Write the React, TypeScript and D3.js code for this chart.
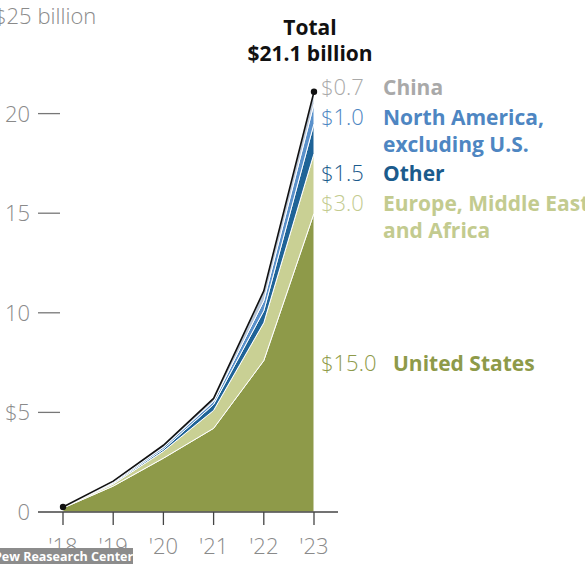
import React from 'react';
import * as d3 from 'd3';

const years = [2018, 2019, 2020, 2021, 2022, 2023];
const yearLabels = ["'18", "'19", "'20", "'21", "'22", "'23"];

// billions of dollars
const unitedStates = [0.2, 1.3, 2.7, 4.2, 7.6, 15.0];
const europeMEA = [0.02, 0.1, 0.35, 0.9, 1.9, 3.0];
const other = [0.01, 0.05, 0.1, 0.3, 0.6, 1.5];
const northAmerica = [0.01, 0.05, 0.1, 0.15, 0.5, 1.0];
const china = [0.01, 0.05, 0.1, 0.15, 0.5, 0.6];

const seriesColors = ['#8e9a49', '#c9d094', '#1e6397', '#5a91cb', '#b8c5d6'];
const yTicks = [0, 5, 10, 15, 20];
const yTickLabels = ['0', '$5', '10', '15', '20'];

const endLabels = [
  { value: '$0.7', lines: ['China'], color: '#a9a9a9', y: 87 },
  { value: '$1.0', lines: ['North America,', 'excluding U.S.'], color: '#4e86c2', y: 117 },
  { value: '$1.5', lines: ['Other'], color: '#1b5b8c', y: 173 },
  { value: '$3.0', lines: ['Europe, Middle East', 'and Africa'], color: '#c3cb8f', y: 203 },
  { value: '$15.0', lines: ['United States'], color: '#8e9a49', y: 363 },
];

const App: React.FC = () => {
  const width = 585;
  const height = 564;

  const x = d3.scaleLinear().domain([2018, 2023]).range([63, 314]);
  const y = d3.scaleLinear().domain([0, 25]).range([512, 14]);

  const rows = years.map((yr, i) => ({
    year: yr,
    s0: unitedStates[i],
    s1: europeMEA[i],
    s2: other[i],
    s3: northAmerica[i],
    s4: china[i],
  }));
  const stack = d3.stack<any>().keys(['s0', 's1', 's2', 's3', 's4']);
  const layers = stack(rows);

  const area = d3.area<any>()
    .x(d => x(d.data.year))
    .y0(d => y(d[0]))
    .y1(d => y(d[1]));

  const totals = rows.map(r => r.s0 + r.s1 + r.s2 + r.s3 + r.s4);
  const totalLine = d3.line<number>()
    .x((_, i) => x(years[i]))
    .y(d => y(d));

  const font = "'Open Sans', Roboto, sans-serif";

  return (
    <svg width={width} height={height} style={{ position: 'absolute', left: 0, top: 0, background: '#fff' }}>
      {layers.map((layer, i) => (
        <path key={i} d={area(layer) || ''} fill={seriesColors[i]} stroke="#fff" strokeWidth={1} strokeLinejoin="round" />
      ))}
      <path d={totalLine(totals) || ''} fill="none" stroke="#111" strokeWidth={1.6} />
      <circle cx={x(2018)} cy={y(totals[0])} r={3.2} fill="#111" />
      <circle cx={x(2023)} cy={y(totals[5])} r={3.2} fill="#111" />

      {/* x axis */}
      <line x1={38} x2={338} y1={y(0)} y2={y(0)} stroke="#444" strokeWidth={1.3} />
      {years.map((yr, i) => (
        <g key={yr}>
          <line x1={x(yr)} x2={x(yr)} y1={y(0)} y2={y(0) + 13} stroke="#444" strokeWidth={1.3} />
          <text x={x(yr)} y={554} textAnchor="middle" fontFamily={font} fontWeight={300} fontSize={22} fill="#8a8a8a">
            {yearLabels[i]}
          </text>
        </g>
      ))}

      {/* y ticks */}
      {yTicks.map((t, i) => (
        <g key={t}>
          {t > 0 && <line x1={38} x2={60} y1={y(t)} y2={y(t)} stroke="#777" strokeWidth={1.3} />}
          <text x={30} y={y(t) + 8} textAnchor="end" fontFamily={font} fontWeight={300} fontSize={22} fill="#8a8a8a">
            {yTickLabels[i]}
          </text>
        </g>
      ))}
      <text x={-6} y={24} fontFamily={font} fontWeight={300} fontSize={22} fill="#8a8a8a">$25 billion</text>

      {/* total label */}
      <text x={310} y={35} textAnchor="middle" fontFamily={font} fontWeight={700} fontSize={21} fill="#111">Total</text>
      <text x={310} y={61} textAnchor="middle" fontFamily={font} fontWeight={700} fontSize={21} fill="#111">$21.1 billion</text>

      {/* end labels */}
      {endLabels.map(l => (
        <g key={l.value}>
          <text x={321} y={l.y + 8} fontFamily={font} fontWeight={300} fontSize={22} fill={l.color}>
            {l.value}
          </text>
          {l.lines.map((line, j) => (
            <text key={j} x={l.value.length > 4 ? 393 : 383} y={l.y + 8 + j * 27} fontFamily={font} fontWeight={700} fontSize={21} fill={l.color}>
              {line}
            </text>
          ))}
        </g>
      ))}

      {/* watermark */}
      <rect x={0} y={548} width={133} height={16} fill="#8c8c8c" />
      <text x={-6} y={561} fontFamily={font} fontWeight={700} fontSize={12.5} fill="#fff">Pew Reasearch Center</text>
    </svg>
  );
};

export default App;
